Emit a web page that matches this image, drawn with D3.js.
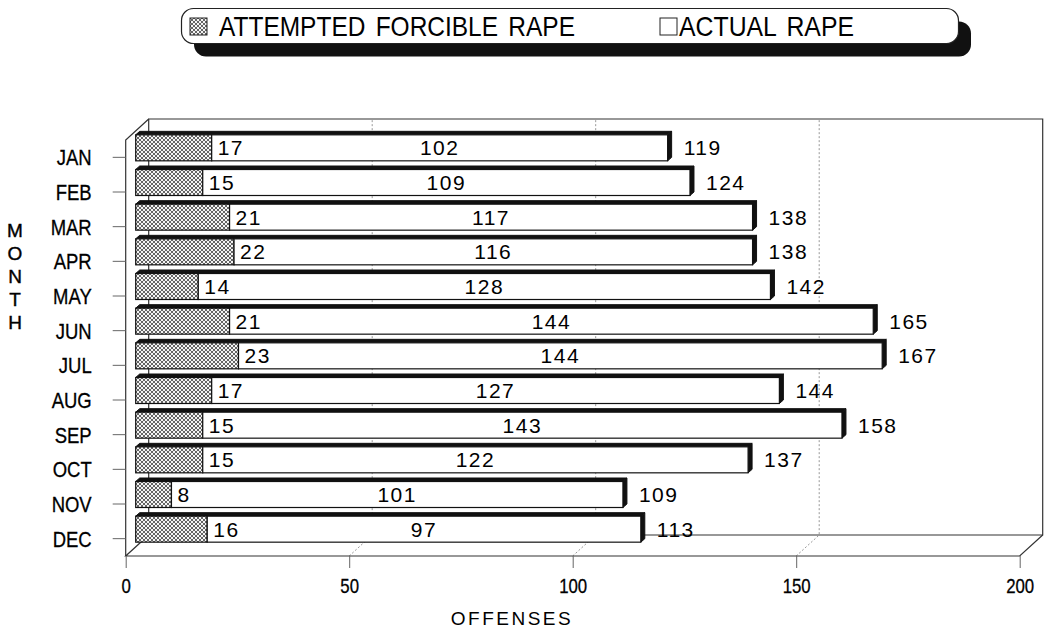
<!DOCTYPE html>
<html>
<head>
<meta charset="utf-8">
<script src="https://cdn.jsdelivr.net/npm/d3@7"></script>
<style>
  body { margin: 0; background: #fff; }
  svg { display: block; }
  text { font-family: Arial, "Liberation Sans", sans-serif; }
</style>
</head>
<body>
<div id="chart"></div>
<script>
// monthly offenses, attempted vs actual
const months = ["JAN", "FEB", "MAR", "APR", "MAY", "JUN", "JUL", "AUG", "SEP", "OCT", "NOV", "DEC"];
const attempted = [17, 15, 21, 22, 14, 21, 23, 17, 15, 15, 8, 16];
const actual = [102, 109, 117, 116, 128, 144, 144, 127, 143, 122, 101, 97];
const totals = [119, 124, 138, 138, 142, 165, 167, 144, 158, 137, 109, 113];
const xTicks = [0, 50, 100, 150, 200];
const seriesNames = ["ATTEMPTED FORCIBLE RAPE", "ACTUAL RAPE"];

const W = 1045, H = 632;
const depth = {dx: 23, dy: -21};     // back wall offset
const barOff = {dx: 10, dy: -9.5};   // bar front face offset
const barDepth = {dx: 4, dy: -3.5};  // bar extrusion

// no narrow font installed, so squeeze glyphs instead
function condense(sel, k) {
    sel.each(function () {
        const w = this.getComputedTextLength();
        d3.select(this)
            .attr("textLength", w * k)
            .attr("lengthAdjust", "spacingAndGlyphs");
    });
}

const svg = d3.select("#chart").append("svg")
    .attr("width", W)
    .attr("height", H);

const defs = svg.append("defs");
const pat = defs.append("pattern")
    .attr("id", "hatch")
    .attr("patternUnits", "userSpaceOnUse")
    .attr("width", 4)
    .attr("height", 4);
pat.append("rect").attr("width", 4).attr("height", 4).attr("fill", "#f4f4f4");
pat.append("path")
    .attr("d", "M0,0L4,4M4,0L0,4")
    .attr("stroke", "#555")
    .attr("stroke-width", 0.9);

const x = d3.scaleLinear()
    .domain([0, 200])
    .range([125.7, 1019.7]);

const y = d3.scaleBand()
    .domain(months)
    .range([140, 556]);

const x0 = x(0), x1 = x(200);
const yTop = 140, yBase = 556;

// back wall and floor
const frame = svg.append("g").attr("fill", "none");
frame.append("path")
    .attr("d", `M${x0 + depth.dx},${yBase + depth.dy}V${yTop + depth.dy}H${x1 + depth.dx}V${yBase + depth.dy}Z`)
    .attr("stroke", "#333")
    .attr("stroke-width", 1.2);

// dotted grid on back wall + floor
xTicks.slice(1, -1).forEach(t => {
    frame.append("path")
        .attr("d", `M${x(t)},${yBase}L${x(t) + depth.dx},${yBase + depth.dy}V${yTop + depth.dy}`)
        .attr("stroke", "#999")
        .attr("stroke-width", 1)
        .attr("stroke-dasharray", "2,2");
});

// left wall
frame.append("path")
    .attr("d", `M${x0},${yBase}V${yTop}L${x0 + depth.dx},${yTop + depth.dy}`)
    .attr("stroke", "#333")
    .attr("stroke-width", 1.2);
// floor front edge and sides
frame.append("path")
    .attr("d", `M${x0 + depth.dx},${yBase + depth.dy}L${x0},${yBase}H${x1}L${x1 + depth.dx},${yBase + depth.dy}`)
    .attr("stroke", "#333")
    .attr("stroke-width", 1.2);

// bars
const bh = y.bandwidth() * 0.75;
const rows = months.map((m, i) => ({m, att: attempted[i], act: actual[i], tot: totals[i]}));

const bar = svg.append("g").selectAll("g")
    .data(rows)
    .join("g");

const bx = v => x(v) + barOff.dx;
const by = d => y(d.m) + y.bandwidth() / 2 - bh / 2 + barOff.dy;

// top face
bar.append("path")
    .attr("d", d => {
        const a = bx(0), b = bx(d.tot), t = by(d);
        return `M${a},${t}L${a + barDepth.dx},${t + barDepth.dy}H${b + barDepth.dx}L${b},${t}Z`;
    })
    .attr("fill", "#111")
    .attr("stroke", "#111")
    .attr("stroke-width", 1);
// side face
bar.append("path")
    .attr("d", d => {
        const b = bx(d.tot), t = by(d);
        return `M${b},${t}L${b + barDepth.dx},${t + barDepth.dy}V${t + bh + barDepth.dy}L${b},${t + bh}Z`;
    })
    .attr("fill", "#111")
    .attr("stroke", "#111")
    .attr("stroke-width", 1);

bar.append("rect")
    .attr("x", bx(0))
    .attr("y", by)
    .attr("width", d => bx(d.att) - bx(0))
    .attr("height", bh)
    .attr("fill", "url(#hatch)")
    .attr("stroke", "#111")
    .attr("stroke-width", 1.2);

bar.append("rect")
    .attr("x", d => bx(d.att))
    .attr("y", by)
    .attr("width", d => bx(d.tot) - bx(d.att))
    .attr("height", bh)
    .attr("fill", "#fff")
    .attr("stroke", "#111")
    .attr("stroke-width", 1.2);

// value labels
const lblY = d => by(d) + bh / 2 + 7.5;
const lbl = sel => sel
    .attr("font-size", 21)
    .attr("letter-spacing", 1.5)
    .attr("fill", "#000")
    .attr("y", lblY);

bar.append("text").call(lbl)
    .attr("x", d => bx(d.att) + 6)
    .text(d => d.att);
bar.append("text").call(lbl)
    .attr("x", d => (bx(d.att) + bx(d.tot)) / 2)
    .attr("text-anchor", "middle")
    .text(d => d.act);
bar.append("text").call(lbl)
    .attr("x", d => bx(d.tot) + 16)
    .text(d => d.tot);

// axes
const yAxis = svg.append("g")
    .attr("transform", `translate(${x0},0)`)
    .call(d3.axisLeft(y).tickSize(13).tickPadding(21));
yAxis.select(".domain").remove();
yAxis.selectAll(".tick line").attr("stroke", "#666");
yAxis.selectAll(".tick text")
    .attr("font-size", 22)
    .attr("font-family", "Arial, 'Liberation Sans', sans-serif")
    .attr("fill", "#000")
    .attr("stroke", "#000")
    .attr("stroke-width", 0.3)
    .attr("dy", "0.36em")
    .call(condense, 0.84);

const xAxis = svg.append("g")
    .attr("transform", `translate(0,${yBase})`)
    .call(d3.axisBottom(x).tickValues(xTicks).tickSize(12).tickPadding(10));
xAxis.select(".domain").remove();
xAxis.selectAll(".tick line").attr("stroke", "#666");
xAxis.selectAll(".tick text")
    .attr("font-size", 21)
    .attr("font-family", "Arial, 'Liberation Sans', sans-serif")
    .attr("fill", "#000")
    .attr("stroke", "#000")
    .attr("stroke-width", 0.3)
    .call(condense, 0.8);

svg.append("text")
    .attr("x", 512)
    .attr("y", 625)
    .attr("text-anchor", "middle")
    .attr("font-size", 19)
    .attr("letter-spacing", 2.5)
    .attr("fill", "#000")
    .text("OFFENSES");

svg.append("g")
    .selectAll("text")
    .data("MONTH".split(""))
    .join("text")
    .attr("x", 15)
    .attr("y", (d, i) => 237 + i * 23)
    .attr("text-anchor", "middle")
    .attr("font-size", 19)
    .attr("fill", "#000")
    .attr("stroke", "#000")
    .attr("stroke-width", 0.4)
    .text(d => d);

// legend
const leg = svg.append("g");
leg.append("rect")
    .attr("x", 194).attr("y", 21.5)
    .attr("width", 777).attr("height", 35)
    .attr("rx", 12)
    .attr("fill", "#111");
leg.append("rect")
    .attr("x", 181.5).attr("y", 8.5)
    .attr("width", 777).attr("height", 35)
    .attr("rx", 12)
    .attr("fill", "#fff")
    .attr("stroke", "#222")
    .attr("stroke-width", 1.2);

const legItems = [
    {name: seriesNames[0], fill: "url(#hatch)", sx: 190, tx: 219, len: 356},
    {name: seriesNames[1], fill: "#fff", sx: 660, tx: 679, len: 175}
];
leg.selectAll("rect.sw")
    .data(legItems)
    .join("rect")
    .attr("class", "sw")
    .attr("x", d => d.sx).attr("y", 18)
    .attr("width", 17).attr("height", 17)
    .attr("fill", d => d.fill)
    .attr("stroke", "#222")
    .attr("stroke-width", 1);
leg.selectAll("text")
    .data(legItems)
    .join("text")
    .attr("x", d => d.tx)
    .attr("y", 36)
    .attr("font-size", 28)
    .attr("word-spacing", 4)
    .attr("fill", "#000")
    .attr("textLength", d => d.len)
    .attr("lengthAdjust", "spacingAndGlyphs")
    .text(d => d.name);
</script>
</body>
</html>
